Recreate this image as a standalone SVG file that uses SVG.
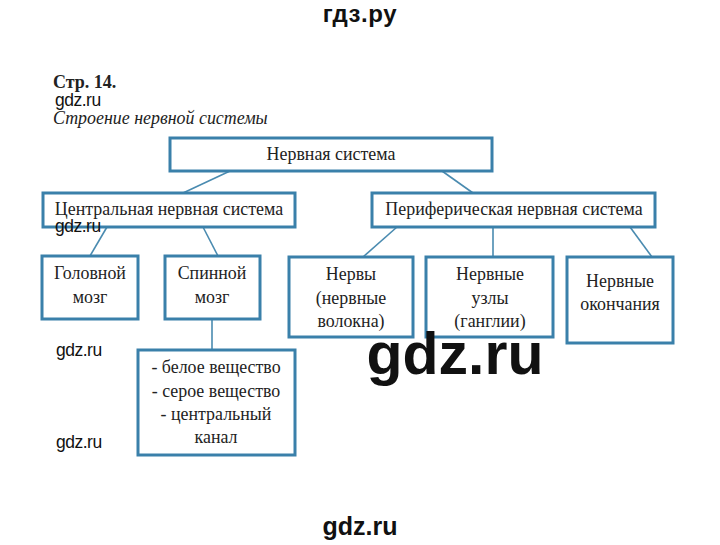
<svg xmlns="http://www.w3.org/2000/svg" width="720" height="545" viewBox="0 0 720 545">
<style>
.box{fill:#fff;stroke:#3a80aa;stroke-width:3}
.con line{stroke:#4a8bb0;stroke-width:1.6}
.t{font-family:'Liberation Serif','DejaVu Serif','Times New Roman',serif;font-size:17.9px;fill:#222;text-anchor:middle}
.hd{font-family:'Liberation Serif','DejaVu Serif','Times New Roman',serif;fill:#222}
.wm{font-family:'Liberation Sans',Arial,sans-serif;font-size:17.5px;fill:#111;letter-spacing:-0.5px}
.wb{font-family:'Liberation Sans',Arial,sans-serif;font-weight:bold;fill:#111;text-anchor:middle}
</style>
<rect width="720" height="545" fill="#fff"/>
<text class="wb" x="360" y="22" font-size="24" letter-spacing="0.6">гдз.ру</text>
<text class="hd" x="53" y="88" font-weight="bold" font-size="18">Стр. 14.</text>
<text class="wm" x="55" y="106">gdz.ru</text>
<text class="hd" x="53" y="124" font-style="italic" font-size="17.9" fill="#555">Строение нервной системы</text>
<g class="con">
<line x1="230" y1="171" x2="183" y2="193"/>
<line x1="442" y1="171" x2="473" y2="193"/>
<line x1="107" y1="227" x2="90" y2="256"/>
<line x1="203" y1="227" x2="218" y2="256"/>
<line x1="212" y1="319" x2="212" y2="350"/>
<line x1="397" y1="227" x2="363" y2="257"/>
<line x1="493" y1="227" x2="493" y2="257"/>
<line x1="630" y1="227" x2="652" y2="257"/>
</g>
<g id="n-root"><rect class="box" x="170" y="138" width="322" height="33"/><text class="t" x="331" y="160">Нервная система</text></g>
<g id="n-cns"><rect class="box" x="43" y="193" width="252" height="34"/><text class="t" x="169" y="215">Центральная нервная система</text></g>
<g id="n-pns"><rect class="box" x="372" y="193" width="283" height="34"/><text class="t" x="514" y="215">Периферическая нервная система</text></g>
<g id="n-brain"><rect class="box" x="42" y="256" width="96" height="63"/><text class="t" x="90" y="279">Головной</text><text class="t" x="90" y="303">мозг</text></g>
<g id="n-spinal"><rect class="box" x="165" y="256" width="95" height="63"/><text class="t" x="212" y="279">Спинной</text><text class="t" x="212" y="303">мозг</text></g>
<g id="n-spinal-parts"><rect class="box" x="138" y="350" width="157" height="105"/><text class="t" x="216" y="373">- белое вещество</text><text class="t" x="216" y="397">- серое вещество</text><text class="t" x="216" y="420">- центральный</text><text class="t" x="216" y="443">канал</text></g>
<g id="n-nerves"><rect class="box" x="289" y="257" width="124" height="80"/><text class="t" x="351" y="280">Нервы</text><text class="t" x="351" y="304">(нервные</text><text class="t" x="351" y="327">волокна)</text></g>
<g id="n-ganglia"><rect class="box" x="426" y="257" width="127" height="80"/><text class="t" x="490" y="280">Нервные</text><text class="t" x="490" y="304">узлы</text><text class="t" x="490" y="327">(ганглии)</text></g>
<g id="n-endings"><rect class="box" x="567" y="257" width="106" height="86"/><text class="t" x="620" y="287">Нервные</text><text class="t" x="620" y="310">окончания</text></g>
<text class="wm" x="55" y="232">gdz.ru</text>
<text class="wm" x="56" y="356">gdz.ru</text>
<text class="wm" x="56" y="448">gdz.ru</text>
<text class="wb" x="455" y="374" font-size="59">gdz.ru</text>
<text class="wb" x="360" y="535" font-size="25">gdz.ru</text>
</svg>
